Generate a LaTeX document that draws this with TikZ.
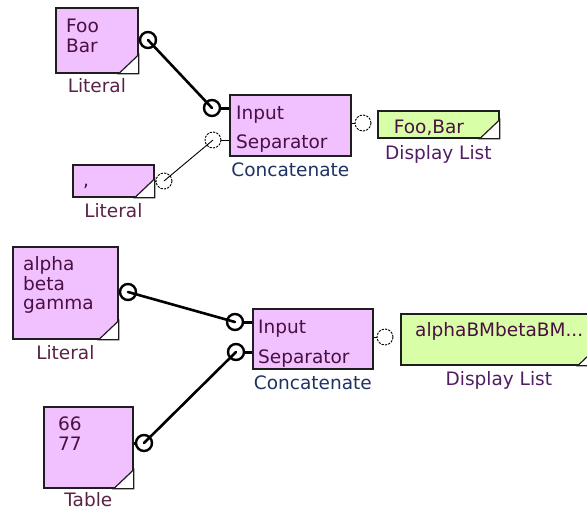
\documentclass[tikz,border=0pt]{standalone}
\usepackage{fontspec}
\setmainfont{DejaVu Sans}
\definecolor{pinkfill}{RGB}{240,192,255}
\definecolor{greenfill}{RGB}{216,255,168}
\definecolor{boxtext}{RGB}{75,15,65}
\definecolor{littext}{RGB}{90,35,70}
\definecolor{cattext}{RGB}{30,50,100}
\definecolor{disptext}{RGB}{80,30,100}
\definecolor{edge}{RGB}{30,30,30}
\tikzset{
  blockbox/.style={draw=edge, line width=1.7pt, rectangle, inner sep=0pt, anchor=north west},
  pinkbox/.style={blockbox, fill=pinkfill},
  greenbox/.style={blockbox, fill=greenfill},
  txt/.style={font=\fontsize{18.5}{20}\selectfont, inner sep=0pt, text=boxtext, align=left},
  lbl/.style={font=\fontsize{18.5}{20}\selectfont, inner sep=0pt, anchor=base},
  portc/.style={circle, draw=black, minimum size=16pt, inner sep=0pt},
  portthick/.style={portc, line width=2.4pt},
  portthin/.style={portc, line width=0.9pt, dash pattern=on 2.2pt off 1.2pt},
  wirethick/.style={line width=2.6pt, line cap=round},
  wirethin/.style={line width=0.9pt},
  stubthick/.style={line width=3pt},
  stubthin/.style={line width=1pt},
  corner/.style={fill=white, draw=edge, line width=1.2pt}
}
\begin{document}
\begin{tikzpicture}[x=1pt,y=-1pt]
\useasboundingbox (0,0) rectangle (587,512);
\clip (0,0) rectangle (587,512);
\fill[white] (0,0) rectangle (587,512);

% ---------- top group ----------
\node[pinkbox, minimum width=82pt, minimum height=65pt] (lit1) at (55,7) {};
\node[pinkbox, minimum width=121pt, minimum height=61pt] (cat1) at (229,94) {};
\node[greenbox, minimum width=121pt, minimum height=27pt] (disp1) at (377,110) {};
\node[pinkbox, minimum width=81pt, minimum height=32pt] (lit2) at (72,164) {};

\foreach \b in {lit1,disp1,lit2}
  \draw[corner] (\b.south east) -- ++(-20,0) -- ++(20,-19) -- cycle;

\node[txt, anchor=base west] (t1a) at (66,32) {Foo};
\node[txt, anchor=base west] (t1b) at (66,52) {Bar};
\node[txt, anchor=base west] (t2a) at (236,119) {Input};
\node[txt, anchor=base west] (t2b) at (236,148) {Separator};
\node[txt, anchor=base] (t3) at (429,133) {Foo,Bar};
\node[txt, anchor=base west] (t4) at (83,186) {,};

\node[lbl, text=littext] (l1) at (lit1.south |- 0,92) {Literal};
\node[lbl, text=cattext] (l2) at (cat1.south |- 0,176) {Concatenate};
\node[lbl, text=disptext] (l3) at (disp1.south |- 0,159) {Display List};
\node[lbl, text=littext] (l4) at (lit2.south |- 0,217) {Literal};

\node[portthick] (p1) at (148,40) {};
\node[portthick] (p2) at (212,108) {};
\node[portthin] (p3) at (213,140) {};
\node[portthin] (p4) at (363,123) {};
\node[portthin] (p5) at (164,181) {};

\draw[stubthick] (p1.west) -- (p1.west -| lit1.east);
\draw[stubthick] (p2.east) -- (p2.east -| cat1.west);
\draw[stubthin] (p3.east) -- (p3.east -| cat1.west);
\draw[stubthin] (p4.west) -- (p4.west -| cat1.east);
\draw[stubthin] (p5.west) -- (p5.west -| lit2.east);

\draw[wirethick] (p1.center) -- (p2.center);
\draw[wirethin] (p5.center) -- (p3.center);

% ---------- bottom group ----------
\node[pinkbox, minimum width=105pt, minimum height=92pt] (lit3) at (12,246) {};
\node[pinkbox, minimum width=120pt, minimum height=60pt] (cat2) at (252,308) {};
\node[greenbox, minimum width=196pt, minimum height=51pt] (disp2) at (400,313) {};
\node[pinkbox, minimum width=89pt, minimum height=81pt] (tab) at (43,406) {};

\foreach \b in {lit3,disp2,tab}
  \draw[corner] (\b.south east) -- ++(-20,0) -- ++(20,-19) -- cycle;

\node[txt, anchor=base west] (u1a) at (23,270) {alpha};
\node[txt, anchor=base west] (u1b) at (23,290) {beta};
\node[txt, anchor=base west] (u1c) at (23,309) {gamma};
\node[txt, anchor=base west] (u2a) at (258,333) {Input};
\node[txt, anchor=base west] (u2b) at (258,363) {Separator};
\node[txt, anchor=base west] (u3) at (415,336) {alphaBMbetaBM...};
\node[txt, anchor=base west] (u4a) at (58,430) {66};
\node[txt, anchor=base west] (u4b) at (58,450) {77};

\node[lbl, text=littext] (m1) at (lit3.south |- 0,359) {Literal};
\node[lbl, text=cattext] (m2) at (cat2.south |- 0,389) {Concatenate};
\node[lbl, text=disptext] (m3) at (disp2.south |- 0,385) {Display List};
\node[lbl, text=littext] (m4) at (tab.south |- 0,506) {Table};

\node[portthick] (q1) at (128,292) {};
\node[portthick] (q2) at (235,322) {};
\node[portthick] (q3) at (236,352) {};
\node[portthin] (q4) at (385,337) {};
\node[portthick] (q5) at (144,443) {};

\draw[stubthick] (q1.west) -- (q1.west -| lit3.east);
\draw[stubthick] (q2.east) -- (q2.east -| cat2.west);
\draw[stubthick] (q3.east) -- (q3.east -| cat2.west);
\draw[stubthin] (q4.west) -- (q4.west -| cat2.east);
\draw[stubthick] (q5.west) -- (q5.west -| tab.east);

\draw[wirethick] (q1.center) -- (q2.center);
\draw[wirethick] (q5.center) -- (q3.center);
\end{tikzpicture}
\end{document}
